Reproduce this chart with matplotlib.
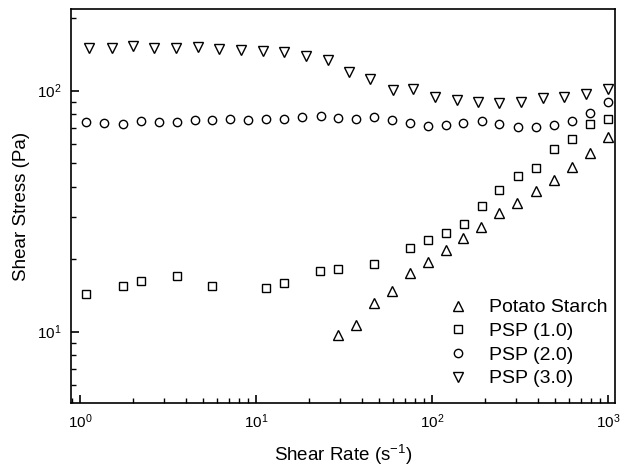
import matplotlib
matplotlib.use("Agg")
import matplotlib.pyplot as plt
from matplotlib.ticker import LogLocator, NullFormatter

plt.rcParams['font.family'] = ['Liberation Sans', 'DejaVu Sans']
plt.rcParams['mathtext.fontset'] = 'custom'
plt.rcParams['mathtext.rm'] = 'Liberation Sans'
plt.rcParams['mathtext.it'] = 'Liberation Sans:italic'
plt.rcParams['mathtext.bf'] = 'Liberation Sans:bold'

# Potato Starch
ps_x = [29.2, 37, 46.8, 59.3, 75, 94.9, 120, 150, 190, 240, 304, 390, 490, 624, 790, 1000]
ps_y = [9.69, 10.7, 13.2, 14.8, 17.6, 19.4, 21.8, 24.5, 27.3, 31.0, 34.3, 38.4, 42.6, 48.4, 55.0, 64.4]

# PSP (1.0)
p1_x = [1.08, 1.75, 2.22, 3.56, 5.62, 11.4, 14.4, 23.1, 29.2, 46.8, 75, 94.9, 120, 151, 192, 240,
        308, 390, 493, 624, 790, 1000]
p1_y = [14.3, 15.5, 16.2, 17.1, 15.5, 15.2, 15.9, 17.9, 18.2, 19.0, 22.3, 23.9, 25.7, 28.0, 33.2, 38.8,
        44.4, 47.6, 57.1, 62.9, 72.8, 76.4]

# PSP (2.0)
p2_x = [1.08, 1.37, 1.75, 2.22, 2.81, 3.56, 4.5, 5.62, 7.12, 9.0, 11.4, 14.4, 18.3, 23.4, 29.2,
        37, 46.8, 59.3, 75, 94.9, 120, 150, 192, 240, 308, 390, 493, 624, 790, 1000]
p2_y = [74.1, 73.4, 72.7, 74.8, 74.1, 74.1, 75.5, 75.5, 76.3, 75.5, 76.3, 76.3, 77.8, 78.5, 77.1,
        76.3, 77.8, 75.5, 73.4, 71.5, 72.1, 73.4, 74.8, 72.7, 70.7, 70.7, 72.1, 74.8, 80.9, 89.8]

# PSP (3.0)
p3_x = [1.12, 1.52, 2.0, 2.63, 3.51, 4.68, 6.16, 8.22, 10.96, 14.4, 19.2, 25.6, 33.8, 44.4, 60,
        78, 104, 139, 182, 240, 320, 427, 562, 750, 1000]
p3_y = [150, 150, 152.5, 150, 150, 151, 148.6, 147.5, 146.5, 145, 139, 134, 119.5, 112, 100.7,
        101.6, 94.2, 91.5, 89.8, 89, 89.8, 93.3, 94.2, 96.9, 101.6]

labels = ['Potato Starch', 'PSP (1.0)', 'PSP (2.0)', 'PSP (3.0)']

fig = plt.figure(figsize=(6.2, 4.67), dpi=100)
ax = fig.add_axes([0.1145, 0.137, 0.8775, 0.8427])

mk = dict(linestyle='none', markerfacecolor='white', markeredgecolor='black', markeredgewidth=1.0)
ax.plot(ps_x, ps_y, marker='^', markersize=7.6, label=labels[0], **mk)
ax.plot(p1_x, p1_y, marker='s', markersize=5.6, label=labels[1], **mk)
ax.plot(p2_x, p2_y, marker='o', markersize=6.0, label=labels[2], **mk)
ax.plot(p3_x, p3_y, marker='v', markersize=7.6, label=labels[3], **mk)

ax.set_xscale('log')
ax.set_yscale('log')
ax.set_xlim(0.889, 1096)
ax.set_ylim(5.06, 217)

ax.xaxis.set_major_locator(LogLocator(base=10, numticks=10))
ax.xaxis.set_minor_locator(LogLocator(base=10, subs=range(2, 10), numticks=20))
ax.yaxis.set_major_locator(LogLocator(base=10, numticks=10))
ax.yaxis.set_minor_locator(LogLocator(base=10, subs=range(2, 10), numticks=20))
ax.xaxis.set_minor_formatter(NullFormatter())
ax.yaxis.set_minor_formatter(NullFormatter())

for s in ax.spines.values():
    s.set_linewidth(1.2)
ax.tick_params(which='major', direction='in', length=6, width=1.2, labelsize=11, pad=7)
ax.tick_params(which='minor', direction='in', length=3.5, width=1.0)
ax.tick_params(top=False, right=False)

ax.set_xlabel('Shear Rate (s$^{-1}$)', fontsize=13.5, labelpad=8)
ax.set_ylabel('Shear Stress (Pa)', fontsize=13.5, labelpad=5)

leg = ax.legend(loc='lower right', bbox_to_anchor=(1.0, 0.02), frameon=False, fontsize=14,
                handlelength=1.2, handletextpad=1.0, labelspacing=0.31, borderaxespad=0.0)

fig.savefig('out.png', dpi=100)
